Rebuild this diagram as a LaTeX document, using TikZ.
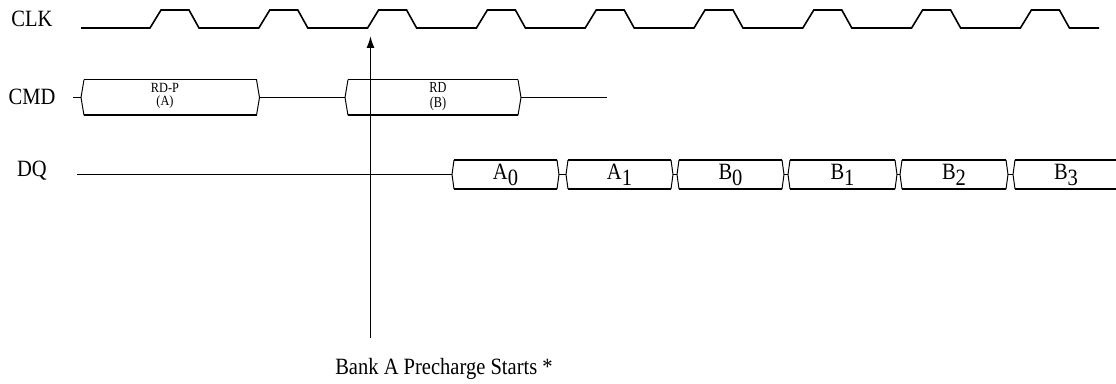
\documentclass[tikz,border=0pt]{standalone}
\usepackage{fontspec}
\setmainfont{Liberation Serif}
\usepackage{graphicx}
\usetikzlibrary{arrows.meta}
\newcommand\nar[1]{\scalebox{0.88}[1]{#1}}
\newcommand\narr[1]{\scalebox{0.8}[1]{#1}}
\newcommand\lsub[2]{#1\raisebox{-0.25em}{#2}}
% bus box: left point, right point, y centre, half height, inset
\newcommand\busbox[5]{%
  \draw[brk] ({#1+#5},{#3-#4}) -- (#1,#3) -- ({#1+#5},{#3+#4});
  \draw[brk] ({#2-#5},{#3-#4}) -- (#2,#3) -- ({#2-#5},{#3+#4});
  \draw[sig] ({#1+#5},{#3-#4}) -- ({#2-#5},{#3-#4}) ({#1+#5},{#3+#4}) -- ({#2-#5},{#3+#4});
}
\begin{document}
\begin{tikzpicture}[x=0.75pt,y=-0.75pt,
  sig/.style={line width=1.2pt},
  brk/.style={line width=0.75pt},
  lbl/.style={font=\fontsize{17.5}{20}\selectfont, inner sep=0pt},
  small/.style={font=\fontsize{10.5}{9.3}\selectfont, inner sep=0pt, align=center},
  mid/.style={font=\fontsize{11.5}{10.9}\selectfont, inner sep=0pt, align=center},
  arrowline/.style={line width=1.2pt, -{Latex[length=9pt,width=6pt]}}]
\useasboundingbox (0,0) rectangle (1116,384);

% signal names
\node[lbl, anchor=base] (clk) at (32,27) {\nar{CLK}};
\node[lbl, anchor=base] (cmd) at (32,105) {\nar{CMD}};
\node[lbl, anchor=base] (dq) at (32,177) {\nar{DQ}};

% clock
\draw[sig] (81,28)
  \foreach \k in {0,...,8} {
    -- ({150+108.8*\k},28) -- ({161+108.8*\k},10) -- ({189+108.8*\k},10) -- ({199+108.8*\k},28)
  } -- (1099,28);

% CMD
\draw[sig] (73,97.5) -- (81,97.5);
\busbox{81}{259.5}{97.5}{17.8}{3}
\draw[sig] (259.5,97.5) -- (345,97.5);
\busbox{345}{521}{97.5}{17.8}{3}
\draw[sig] (521,97.5) -- (607,97.5);
\node[small] (rdp) at (165,96) {\nar{RD-P}\\\nar{(A)}};
\node[mid] (rdb) at (438,96.5) {\narr{RD}\\\narr{(B)}};

% DQ
\draw[sig] (77,174.5) -- (452,174.5);
\busbox{452}{559}{174.5}{14.5}{2}
\draw[sig] (559,174.5) -- (566,174.5);
\busbox{566}{673}{174.5}{14.5}{2}
\draw[sig] (673,174.5) -- (677,174.5);
\busbox{677}{784}{174.5}{14.5}{2}
\draw[sig] (784,174.5) -- (788,174.5);
\busbox{788}{897}{174.5}{14.5}{2}
\draw[sig] (897,174.5) -- (900,174.5);
\busbox{900}{1008}{174.5}{14.5}{2}
\draw[sig] (1008,174.5) -- (1013,174.5);
\draw[brk] (1015,160) -- (1013,174.5) -- (1015,189);
\draw[sig] (1015,160) -- (1116,160) (1015,189) -- (1116,189);

\node[lbl, anchor=base] (a0) at (505.5,179.3) {\nar{\lsub{A}{0}}};
\node[lbl, anchor=base] (a1) at (619.5,179.3) {\nar{\lsub{A}{1}}};
\node[lbl, anchor=base] (b0) at (730.5,179.3) {\nar{\lsub{B}{0}}};
\node[lbl, anchor=base] (b1) at (842.5,179.3) {\nar{\lsub{B}{1}}};
\node[lbl, anchor=base] (b2) at (954,179.3) {\nar{\lsub{B}{2}}};
\node[lbl, anchor=base] (b3) at (1066,179.3) {\nar{\lsub{B}{3}}};

% arrow and note
\node[lbl, anchor=base] (bank) at (444,374) {\nar{Bank A Precharge Starts *}};
\coordinate (arrbot) at (370.5,338);
\coordinate (arrtip) at (370.5,36);
\draw[arrowline] (arrbot) -- (arrtip);
\end{tikzpicture}
\end{document}
